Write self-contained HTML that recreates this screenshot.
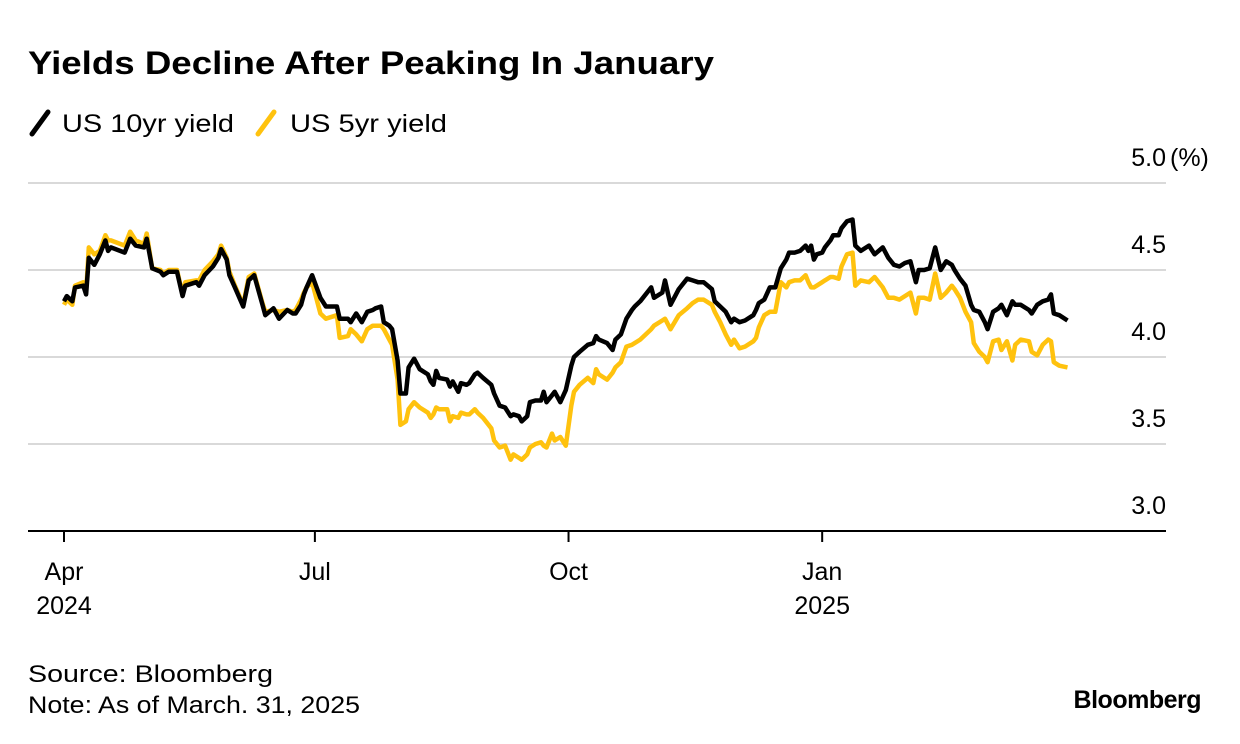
<!DOCTYPE html>
<html><head><meta charset="utf-8"><style>
html,body{margin:0;padding:0;background:#fff;}
svg{display:block;font-family:"Liberation Sans",sans-serif;}
</style></head><body>
<svg id="chart" width="1240" height="744" viewBox="0 0 1240 744">
<text x="28" y="74" font-size="32" font-weight="bold" fill="#000" textLength="686" lengthAdjust="spacingAndGlyphs">Yields Decline After Peaking In January</text>
<g>
<line x1="32" y1="134" x2="48" y2="112" stroke="#000" stroke-width="5" stroke-linecap="round"/>
<text x="62" y="132" font-size="25" fill="#000" textLength="172" lengthAdjust="spacingAndGlyphs">US 10yr yield</text>
<line x1="258" y1="134" x2="274" y2="112" stroke="#ffc20e" stroke-width="5" stroke-linecap="round"/>
<text x="290" y="132" font-size="25" fill="#000" textLength="157" lengthAdjust="spacingAndGlyphs">US 5yr yield</text>
</g>
<g id="grid"></g>
<g id="xaxis"></g>
<g id="series"></g>
<text x="28" y="682" font-size="24" fill="#000" textLength="245" lengthAdjust="spacingAndGlyphs">Source: Bloomberg</text>
<text x="28" y="713" font-size="24" fill="#000" textLength="332" lengthAdjust="spacingAndGlyphs">Note: As of March. 31, 2025</text>
<text x="1201" y="708" font-size="25" font-weight="bold" text-anchor="end" fill="#000" letter-spacing="-0.5">Bloomberg</text>
</svg>
<script>
const yTicks = [3.0, 3.5, 4.0, 4.5, 5.0];
const yTickLabels = ["3.0", "3.5", "4.0", "4.5", "5.0"];
const xTickDays = [0, 91, 183, 275];
const xTickLabels = ["Apr", "Jul", "Oct", "Jan"];
const xTickYears = ["2024", "", "", "2025"];
const days = [0,1,3,4,7,8,9,11,13,15,16,17,22,24,26,29,30,32,35,36,38,41,43,44,48,49,51,54,56,57,59,60,62,65,67,69,72,73,76,78,81,83,84,86,87,88,90,93,95,99,100,103,104,106,108,110,112,113,115,116,118,119,121,122,124,125,127,129,132,133,134,135,136,139,140,141,143,144,146,147,149,150,152,155,156,158,160,162,163,165,166,168,169,171,173,174,175,177,178,180,182,184,185,187,190,192,193,194,197,199,200,202,204,206,207,209,213,214,217,218,220,223,226,228,230,232,235,236,238,240,242,243,245,247,250,251,252,254,256,258,260,262,263,265,267,269,270,271,272,273,275,276,278,279,281,282,284,286,287,289,292,294,297,299,301,303,305,307,309,310,312,314,316,318,320,322,323,325,327,329,330,332,334,335,337,339,340,342,344,345,347,350,351,353,355,357,358,359,361,364];
const us10 = [4.32,4.35,4.32,4.40,4.41,4.36,4.57,4.53,4.59,4.67,4.61,4.63,4.60,4.68,4.64,4.63,4.68,4.51,4.49,4.47,4.49,4.49,4.35,4.41,4.43,4.41,4.47,4.52,4.57,4.62,4.56,4.47,4.40,4.29,4.44,4.47,4.30,4.24,4.28,4.22,4.27,4.25,4.25,4.30,4.36,4.40,4.47,4.34,4.29,4.29,4.22,4.22,4.20,4.25,4.20,4.26,4.27,4.28,4.29,4.20,4.18,4.16,3.98,3.79,3.79,3.94,3.99,3.93,3.90,3.86,3.84,3.92,3.88,3.87,3.83,3.86,3.80,3.85,3.84,3.85,3.90,3.91,3.88,3.84,3.79,3.72,3.71,3.66,3.67,3.66,3.63,3.66,3.74,3.75,3.75,3.80,3.74,3.78,3.80,3.74,3.81,3.95,4.00,4.03,4.07,4.08,4.12,4.10,4.08,4.04,4.10,4.13,4.22,4.27,4.29,4.32,4.40,4.34,4.37,4.44,4.30,4.39,4.45,4.44,4.43,4.43,4.39,4.32,4.29,4.26,4.20,4.22,4.20,4.21,4.24,4.27,4.31,4.33,4.40,4.40,4.51,4.56,4.60,4.60,4.61,4.64,4.61,4.64,4.56,4.59,4.60,4.63,4.67,4.70,4.70,4.74,4.78,4.79,4.64,4.61,4.64,4.59,4.63,4.57,4.53,4.52,4.54,4.55,4.43,4.50,4.50,4.51,4.63,4.50,4.55,4.53,4.50,4.45,4.41,4.30,4.27,4.26,4.20,4.16,4.26,4.28,4.30,4.24,4.32,4.30,4.30,4.27,4.25,4.30,4.32,4.33,4.36,4.25,4.24,4.21];
const us5 = [4.30,4.33,4.30,4.41,4.43,4.37,4.63,4.59,4.61,4.70,4.67,4.67,4.64,4.72,4.67,4.65,4.71,4.51,4.50,4.48,4.50,4.50,4.36,4.43,4.44,4.44,4.50,4.55,4.59,4.64,4.57,4.49,4.41,4.30,4.46,4.48,4.31,4.26,4.27,4.26,4.27,4.26,4.27,4.33,4.37,4.40,4.43,4.25,4.22,4.24,4.11,4.12,4.16,4.13,4.09,4.16,4.18,4.18,4.18,4.16,4.10,4.07,3.87,3.61,3.63,3.70,3.74,3.71,3.68,3.65,3.67,3.71,3.70,3.70,3.63,3.66,3.65,3.68,3.67,3.67,3.70,3.68,3.65,3.59,3.52,3.48,3.49,3.41,3.44,3.42,3.41,3.44,3.48,3.50,3.51,3.49,3.48,3.56,3.52,3.54,3.49,3.72,3.80,3.84,3.88,3.85,3.93,3.90,3.87,3.91,3.94,3.97,4.06,4.07,4.08,4.10,4.16,4.18,4.21,4.22,4.16,4.24,4.28,4.31,4.33,4.33,4.30,4.26,4.20,4.13,4.07,4.10,4.05,4.06,4.09,4.11,4.17,4.24,4.26,4.26,4.43,4.40,4.43,4.44,4.44,4.47,4.43,4.40,4.40,4.41,4.43,4.44,4.46,4.46,4.45,4.52,4.59,4.60,4.41,4.44,4.43,4.46,4.40,4.34,4.34,4.33,4.35,4.37,4.25,4.34,4.34,4.33,4.48,4.34,4.37,4.41,4.39,4.34,4.26,4.20,4.08,4.03,4.00,3.97,4.09,4.10,4.04,4.09,3.98,4.07,4.10,4.09,4.03,4.01,4.07,4.10,4.09,3.97,3.95,3.94];

const NS = "http://www.w3.org/2000/svg";
const X0 = 64, PXD = 2.757, Y3 = 531, PXV = 174;
function xs(d){ return X0 + d * PXD; }
function ys(v){ return Y3 - (v - 3.0) * PXV; }
function mk(tag, attrs, parent){ const e = document.createElementNS(NS, tag); for (const k in attrs) e.setAttribute(k, attrs[k]); parent.appendChild(e); return e; }

const grid = document.getElementById('grid');
yTicks.forEach((v, i) => {
  if (i > 0) {
    const ln = mk('line', {x1: 28, x2: 1166, y1: ys(v), y2: ys(v), stroke: '#d9d9d9', 'stroke-width': 2}, grid);
    
    
  }
  const t = mk('text', {x: 1166, y: ys(v) - 17, 'font-size': 25, 'text-anchor': 'end', fill: '#000'}, grid);
  t.textContent = yTickLabels[i];
  
  
});
const unit = mk('text', {x: 1170, y: ys(5.0) - 17, 'font-size': 25, fill: '#000'}, grid);
unit.textContent = '(%)';



const xa = document.getElementById('xaxis');
const base = mk('line', {x1: 28, x2: 1166, y1: Y3, y2: Y3, stroke: '#000', 'stroke-width': 2}, xa);


xTickDays.forEach((d, i) => {
  const tk = mk('line', {x1: xs(d), x2: xs(d), y1: Y3, y2: Y3 + 11, stroke: '#000', 'stroke-width': 2}, xa);
  
  
  const t = mk('text', {x: xs(d), y: 580, 'font-size': 25, 'text-anchor': 'middle', fill: '#000'}, xa);
  t.textContent = xTickLabels[i];
  
  
  if (xTickYears[i]) {
    const y = mk('text', {x: xs(d), y: 614, 'font-size': 25, 'text-anchor': 'middle', fill: '#000'}, xa);
    y.textContent = xTickYears[i];
    
    
  }
});

const sg = document.getElementById('series');
function line(vals, color, name){
  const d = vals.map((v, i) => (i ? 'L' : 'M') + xs(days[i]).toFixed(1) + ' ' + ys(v).toFixed(1)).join(' ');
  const p = mk('path', {d: d, fill: 'none', stroke: color, 'stroke-width': 4.5, 'stroke-linejoin': 'round'}, sg);
  
  
}
line(us5, '#ffc20e', 'us-5yr-yield-line');
line(us10, '#000000', 'us-10yr-yield-line');
</script>
</body></html>
